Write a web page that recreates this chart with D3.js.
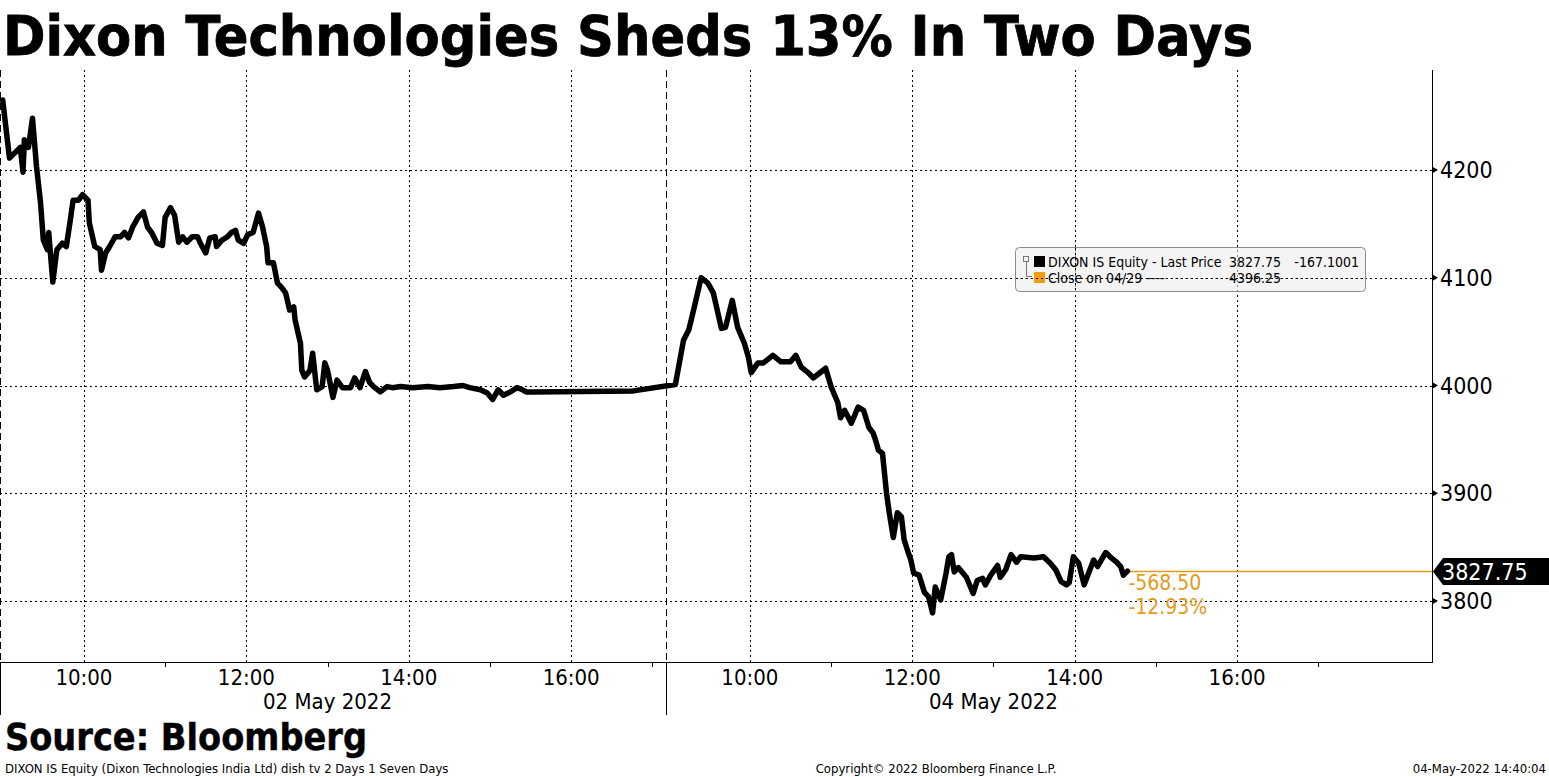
<!DOCTYPE html>
<html><head><meta charset="utf-8">
<script src="https://cdn.jsdelivr.net/npm/d3@7"></script>
<style>body{margin:0;background:#fff}svg{display:block}</style>
</head><body><svg id="c" width="1549" height="777"></svg>
<script>
// ---------- data ----------
const dayLabels = ["02 May 2022", "04 May 2022"];
const day1Times = ["09:00","09:05","09:13","09:15","09:16","09:19","09:22","09:25","09:28","09:30","09:33","09:34","09:37","09:40","09:44","09:47","09:50","09:52","09:56","09:59","10:03","10:04","10:08","10:12","10:13","10:16","10:19","10:23","10:27","10:30","10:33","10:36","10:40","10:44","10:47","10:50","10:54","10:58","11:00","11:04","11:07","11:10","11:13","11:16","11:20","11:24","11:26","11:30","11:33","11:37","11:38","11:42","11:46","11:49","11:52","11:54","11:58","12:01","12:05","12:09","12:12","12:15","12:16","12:20","12:23","12:26","12:29","12:32","12:35","12:36","12:40","12:41","12:43","12:47","12:49","12:52","12:56","12:58","13:00","13:04","13:07","13:11","13:17","13:20","13:24","13:28","13:31","13:34","13:39","13:44","13:48","13:54","14:03","14:14","14:23","14:33","14:40","14:45","14:53","14:58","15:02","15:06","15:10","15:15","15:20","15:24","15:27","15:32","16:46"];
const day1Prices = [4265,4211,4221,4198,4228,4221,4248,4203,4169,4135,4126,4142,4096,4126,4132,4129,4154,4172,4172,4177,4172,4151,4129,4126,4107,4123,4129,4138,4138,4142,4137,4147,4156,4161,4147,4142,4132,4130,4156,4165,4158,4133,4138,4133,4138,4138,4132,4123,4137,4138,4129,4135,4138,4142,4144,4135,4132,4140,4142,4160,4147,4129,4114,4114,4095,4091,4086,4070,4073,4061,4039,4014,4008,4014,4030,3996,3999,4021,4014,3989,4005,3998,3998,4007,3998,4013,4003,3999,3994,3999,3998,3999,3998,3999,3998,3999,4000,3998,3996,3993,3987,3996,3991,3994,3998,3996,3994,3994,3995];
const day2Times = ["09:05","09:11","09:15","09:19","09:24","09:29","09:33","09:39","09:42","09:47","09:51","09:56","09:59","10:01","10:06","10:10","10:17","10:23","10:30","10:34","10:38","10:43","10:47","10:53","10:56","11:00","11:05","11:07","11:10","11:15","11:20","11:24","11:28","11:31","11:33","11:35","11:38","11:41","11:43","11:46","11:49","11:52","11:54","11:57","11:59","12:01","12:05","12:09","12:12","12:15","12:17","12:21","12:25","12:27","12:29","12:31","12:34","12:40","12:45","12:48","12:52","12:54","12:58","13:03","13:05","13:09","13:13","13:17","13:20","13:30","13:37","13:42","13:46","13:50","13:54","13:56","13:59","14:03","14:07","14:14","14:17","14:21","14:23","14:27","14:31","14:34","14:36","14:39"];
const day2Prices = [4001,4042,4052,4073,4100,4095,4086,4053,4054,4079,4054,4039,4026,4012,4021,4021,4028,4022,4022,4028,4017,4012,4007,4013,4016,3999,3984,3970,3977,3965,3980,3977,3961,3956,3949,3940,3937,3900,3882,3859,3882,3878,3857,3845,3838,3826,3824,3808,3804,3789,3813,3801,3826,3841,3843,3827,3831,3822,3807,3819,3821,3815,3824,3833,3822,3829,3843,3836,3841,3840,3841,3835,3829,3818,3815,3817,3841,3835,3815,3838,3832,3841,3845,3840,3836,3832,3824,3827.75];
const yTicks = [3800, 3900, 4000, 4100, 4200];
const yDomain = [3743.4, 4292.8];
const labelHours = ["10:00","12:00","14:00","16:00"];
const minorHours = ["11:00","13:00","15:00","17:00"];
const sessionStart = "08:58", sessionEnd = "17:10", axisEnd = "18:24";
const lastPrice = 3827.75, prevClose = 4396.25, legendChange = "-167.1001";
const seriesName = "DIXON IS Equity - Last Price";
const closeName = "Close on 04/29 ----";
const titleText = "Dixon Technologies Sheds 13% In Two Days";
const sourceText = "Source: Bloomberg";
const footLeft = "DIXON IS Equity (Dixon Technologies India Ltd) dish tv 2 Days 1 Seven Days";
const footMid = "Copyright\u00A9 2022 Bloomberg Finance L.P.";
const footRight = "04-May-2022 14:40:04";

// ---------- layout ----------
const W = 1549, H = 777;
const plot = {left: 0, right: 1432, top: 70, bottom: 662};
const narrow = "'Liberation Sans Narrow','DejaVu Sans Condensed',sans-serif";
const orange = "#e39b1c";

const svg = d3.select("#c");
const toMin = s => { const [h, m] = s.split(":").map(Number); return h * 60 + m; };
const startMin = toMin(sessionStart);
const dayLen = toMin(sessionEnd) - startMin;
const tpos = (d, t) => d * dayLen + toMin(t) - startMin;

const x = d3.scaleLinear().domain([0, tpos(1, axisEnd)]).range([plot.left, plot.right]);
const y = d3.scaleLinear().domain(yDomain).range([plot.bottom, plot.top]);

const data = [
  ...day1Times.map((t, i) => ({d: 0, t, p: day1Prices[i]})),
  ...day2Times.map((t, i) => ({d: 1, t, p: day2Prices[i]}))
];

// gridlines
const grid = svg.append("g").attr("stroke", "#000").attr("stroke-width", 1).attr("stroke-dasharray", "2,3");
yTicks.forEach(v => {
  grid.append("line").attr("x1", plot.left).attr("x2", plot.right)
    .attr("y1", Math.round(y(v)) + 0.5).attr("y2", Math.round(y(v)) + 0.5);
});
[0, 1].forEach(d => labelHours.forEach(h => {
  const xx = Math.round(x(tpos(d, h))) + 0.5;
  grid.append("line").attr("x1", xx).attr("x2", xx).attr("y1", plot.top).attr("y2", plot.bottom);
}));

// day separators (dashed)
[0, 1].forEach(d => {
  const xx = Math.max(0.5, Math.round(x(tpos(d, sessionStart))) + 0.5);
  svg.append("line").attr("x1", xx).attr("x2", xx).attr("y1", plot.top).attr("y2", plot.bottom)
    .attr("stroke", "#000").attr("stroke-width", 1).attr("stroke-dasharray", "7,4");
  svg.append("line").attr("x1", xx).attr("x2", xx).attr("y1", plot.bottom).attr("y2", 715)
    .attr("stroke", "#000").attr("stroke-width", 1);
});

// axes lines
svg.append("line").attr("x1", plot.left).attr("x2", plot.right + 0.5)
  .attr("y1", plot.bottom + 0.5).attr("y2", plot.bottom + 0.5).attr("stroke", "#000");
svg.append("line").attr("x1", plot.right + 0.5).attr("x2", plot.right + 0.5)
  .attr("y1", plot.top).attr("y2", plot.bottom + 1).attr("stroke", "#000");

// x axis ticks & labels
[0, 1].forEach(d => {
  minorHours.forEach(h => {
    const xx = Math.round(x(tpos(d, h))) + 0.5;
    svg.append("line").attr("x1", xx).attr("x2", xx).attr("y1", plot.bottom).attr("y2", plot.bottom + 5).attr("stroke", "#000");
  });
  labelHours.forEach(h => {
    svg.append("text").attr("x", x(tpos(d, h))).attr("y", 685).attr("text-anchor", "middle")
      .attr("font-family", narrow).attr("font-size", 22).text(h);
  });
  const mid = (x(tpos(d, "12:00")) + x(tpos(d, "14:00"))) / 2;
  svg.append("text").attr("x", mid).attr("y", 709).attr("text-anchor", "middle")
    .attr("font-family", narrow).attr("font-size", 22).text(dayLabels[d]);
});

// y axis ticks & labels
yTicks.forEach(v => {
  const yy = y(v);
  svg.append("path").attr("d", `M${plot.right},${yy - 3.5}L${plot.right + 6},${yy}L${plot.right},${yy + 3.5}Z`).attr("fill", "#000");
  svg.append("text").attr("x", plot.right + 8).attr("y", yy + 8).attr("font-family", narrow)
    .attr("font-size", 23).text(v);
});

// close reference line
const yl = y(lastPrice);
const lastPt = data[data.length - 1];
svg.append("line").attr("x1", x(tpos(lastPt.d, lastPt.t))).attr("x2", plot.right)
  .attr("y1", Math.round(yl) + 0.5).attr("y2", Math.round(yl) + 0.5).attr("stroke", orange).attr("stroke-width", 1.3);

// price line
const line = d3.line().x(p => x(tpos(p.d, p.t))).y(p => y(p.p)).curve(d3.curveLinear);
svg.append("path").datum(data).attr("d", line).attr("fill", "none").attr("stroke", "#000")
  .attr("stroke-width", 5.5).attr("stroke-linejoin", "round").attr("stroke-linecap", "round");

// change annotations
const chg = lastPrice - prevClose;
const pct = chg / prevClose * 100;
const ax = x(tpos(lastPt.d, lastPt.t)) + 1;
svg.append("text").attr("x", ax).attr("y", yl + 19).attr("font-family", narrow).attr("font-size", 21)
  .attr("fill", orange).text(chg.toFixed(2));
svg.append("text").attr("x", ax).attr("y", yl + 43).attr("font-family", narrow).attr("font-size", 21)
  .attr("fill", orange).text(pct.toFixed(2) + "%");

// last price tag
const ty = Math.round(yl);
svg.append("path").attr("d", `M${plot.right + 1},${ty + 0.5}L${plot.right + 11},${ty - 13}L${W},${ty - 13}L${W},${ty + 14}L${plot.right + 11},${ty + 14}Z`).attr("fill", "#000");
svg.append("text").attr("x", plot.right + 10).attr("y", ty + 9).attr("font-family", narrow)
  .attr("font-size", 23).attr("fill", "#fff").text(lastPrice.toFixed(2));

// legend
const lg = svg.append("g");
lg.append("rect").attr("x", 1015.5).attr("y", 247.5).attr("width", 350).attr("height", 44)
  .attr("rx", 4).attr("fill", "#ececec").attr("fill-opacity", 0.6).attr("stroke", "#8c8c8c").attr("stroke-width", 1);
lg.append("rect").attr("x", 1023.5).attr("y", 256.5).attr("width", 5).attr("height", 5).attr("fill", "none").attr("stroke", "#777");
lg.append("path").attr("d", "M1026.5,262V276.5H1032").attr("fill", "none").attr("stroke", "#777");
lg.append("rect").attr("x", 1034).attr("y", 256).attr("width", 11).attr("height", 11).attr("fill", "#000");
lg.append("rect").attr("x", 1034).attr("y", 272).attr("width", 11).attr("height", 11).attr("fill", "#f39c12");
lg.append("text").attr("x", 1048).attr("y", 267).attr("font-family", narrow).attr("font-size", 14).text(seriesName);
lg.append("text").attr("x", 1229).attr("y", 267).attr("font-family", narrow).attr("font-size", 14).text(lastPrice.toFixed(2));
lg.append("text").attr("x", 1359).attr("y", 267).attr("text-anchor", "end").attr("font-family", narrow).attr("font-size", 14).text(legendChange);
lg.append("text").attr("x", 1048).attr("y", 283).attr("font-family", narrow).attr("font-size", 14).text(closeName);
lg.append("text").attr("x", 1229).attr("y", 283).attr("font-family", narrow).attr("font-size", 14).text(prevClose.toFixed(2));
// gridlines through legend
lg.append("line").attr("x1", 1016).attr("x2", 1365).attr("y1", Math.round(y(4100)) + 0.5).attr("y2", Math.round(y(4100)) + 0.5)
  .attr("stroke", "#000").attr("stroke-dasharray", "2,3");
lg.append("line").attr("x1", Math.round(x(tpos(1, "14:00"))) + 0.5).attr("x2", Math.round(x(tpos(1, "14:00"))) + 0.5)
  .attr("y1", 248).attr("y2", 291).attr("stroke", "#000").attr("stroke-dasharray", "2,3");

// title & source
svg.append("text").attr("x", 3).attr("y", 55).attr("font-family", "'DejaVu Sans',Verdana,sans-serif")
  .attr("font-weight", "bold").attr("font-size", 55).attr("textLength", 1250).attr("lengthAdjust", "spacingAndGlyphs")
  .attr("stroke", "#000").attr("stroke-width", 0.8).text(titleText);
svg.append("text").attr("x", 5).attr("y", 750).attr("font-family", "'DejaVu Sans',Verdana,sans-serif")
  .attr("font-weight", "bold").attr("font-size", 38).attr("textLength", 362).attr("lengthAdjust", "spacingAndGlyphs")
  .attr("stroke", "#000").attr("stroke-width", 0.5).text(sourceText);

// footers
svg.append("text").attr("x", 5).attr("y", 773).attr("font-family", narrow).attr("font-size", 13).text(footLeft);
svg.append("text").attr("x", 936).attr("y", 773).attr("text-anchor", "middle").attr("font-family", narrow).attr("font-size", 13).text(footMid);
svg.append("text").attr("x", 1546).attr("y", 773).attr("text-anchor", "end").attr("font-family", narrow).attr("font-size", 13).text(footRight);
</script></body></html>
